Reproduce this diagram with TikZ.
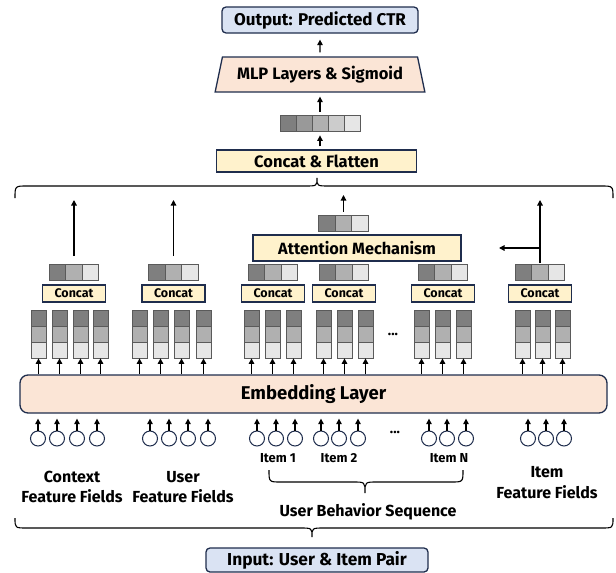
\documentclass[tikz,border=0pt]{standalone}
\usepackage{fontspec}
\setmainfont{Fira Sans}
\usetikzlibrary{shapes.geometric,arrows.meta,calc}
\definecolor{navy}{HTML}{1F2D4D}
\definecolor{bluef}{HTML}{DAE3F3}
\definecolor{peach}{HTML}{FBE5D6}
\definecolor{cyel}{HTML}{FFF2CC}
\definecolor{gA}{HTML}{7F7F7F}
\definecolor{gB}{HTML}{B0B0B0}
\definecolor{gC}{HTML}{E6E6E6}
\definecolor{g2}{HTML}{999999}
\definecolor{g4}{HTML}{CCCCCC}
\definecolor{cellb}{HTML}{5A5A5A}
\newcommand\embcol[3]{%
  \node[cell,fill=gA] (#1-a) at (#2,#3+8) {};
  \node[cell,fill=gB] (#1-b) at (#2,#3+24) {};
  \node[cell,fill=gC] (#1-c) at (#2,#3+40) {};
  \draw[arr] (#1-c.south |- emb.north) -- (#1-c.south);}
\newcommand\barthree[3]{%
  \node[hcell,fill=gA] (#1-a) at (#2-16.5,#3) {};
  \node[hcell,fill=gB] (#1-b) at (#2,#3) {};
  \node[hcell,fill=gC] (#1-c) at (#2+16.5,#3) {};}
\newcommand\fsz[1]{\fontsize{#1}{#1}\selectfont\bfseries}
\begin{document}
\begin{tikzpicture}[x=1pt,y=-1pt,
  box/.style={draw=navy, line width=1.3pt, inner sep=0pt, font=\bfseries},
  cell/.style={draw=cellb, line width=0.8pt, minimum width=15pt, minimum height=16pt, inner sep=0pt},
  hcell/.style={cell, minimum width=16.5pt},
  arr/.style={-{Triangle[length=5.5pt,width=5.5pt]}, line width=1.2pt},
  inc/.style={circle, draw=navy, line width=1pt, minimum size=15pt, inner sep=0pt},
  cbox/.style={box, fill=cyel, minimum width=63pt, minimum height=17pt, font=\fsz{12.5}},
  lbl/.style={font=\fsz{13}, inner sep=0pt},
  lblb/.style={font=\fontsize{16}{20.5}\selectfont\bfseries, inner sep=0pt, align=center},
  brace/.style={line width=1.1pt}]
\useasboundingbox (0,0) rectangle (616,573);
% top
\node[box, fill=bluef, rounded corners=4pt, minimum width=196pt, minimum height=26pt, font=\fsz{17}] (out) at (320,20) {Output: Predicted CTR};
\node[box, fill=peach, trapezium, trapezium left angle=70, trapezium right angle=70, trapezium stretches=true, minimum width=210pt, minimum height=35pt, font=\fsz{16.5}] (mlp) at (320,74.5) {MLP Layers \& Sigmoid};
\node[hcell, minimum width=16pt, fill=gA] (f-1) at (288,123) {};
\node[hcell, minimum width=16pt, fill=g2] (f-2) at (304,123) {};
\node[hcell, minimum width=16pt, fill=gB] (f-3) at (320,123) {};
\node[hcell, minimum width=16pt, fill=g4] (f-4) at (336,123) {};
\node[hcell, minimum width=16pt, fill=gC] (f-5) at (352,123) {};
\node[box, fill=cyel, minimum width=200pt, minimum height=22pt, font=\fsz{16.5}] (flat) at (316.5,161) {Concat \& Flatten};
\draw[arr, shorten <=3pt, shorten >=4pt] (f-3.south |- flat.north) -- (f-3.south);
\draw[arr, shorten <=3pt, shorten >=4pt] (f-3.north) -- (f-3.north |- mlp.south);
\draw[arr, shorten <=4pt, shorten >=6pt] (mlp.north) -- (out.south);
% top brace
\draw[brace] (15,198) .. controls (15,186) .. (27,186) -- (305,186) .. controls (317,186) .. (317,178) .. controls (317,186) .. (329,186) -- (601,186) .. controls (613,186) .. (613,198);
% embedding
\node[box, fill=peach, rounded corners=8pt, minimum width=587pt, minimum height=38pt, font=\fsz{18.5}] (emb) at (313.5,394) {Embedding Layer};
% columns
\foreach \n/\x in {k1/38.5,k2/59.5,k3/80.5,k4/100.5,u1/139.5,u2/160.5,u3/181.5,u4/203.5,a1/251.5,a2/272.5,a3/293.5,b1/323.5,b2/344.5,b3/365.5,n1/421.5,n2/442.5,n3/463.5,q1/522.5,q2/542.5,q3/562.5}{\embcol{\n}{\x}{310}}
\node[lbl, font=\fsz{14}] (dotsA) at (393,334) {...};
% concat boxes and bars
\foreach \n/\x in {ctx/74,usr/173.5,it1/273,it2/344,itn/443,itf/540}{
  \node[cbox] (\n-cc) at (\x,293.5) {Concat};
  \barthree{\n}{\x}{272.5}}
% attention
\node[box, fill=cyel, minimum width=208pt, minimum height=26pt, font=\fsz{16.3}] (att) at (357,248) {Attention Mechanism};
\barthree{ao}{343.5}{223}
\coordinate (aotop) at (343.5,195);
\draw[arr, shorten <=3pt] (ao-b.north) -- (aotop);
\coordinate (ctxtop) at (74,200);
\coordinate (usrtop) at (173.5,200);
\coordinate (itftop) at (540,200);
\coordinate (itfbr) at (540,248);
\coordinate (itfend) at (499,248);
\draw[arr, shorten <=8pt] (ctx-b.north) -- (ctxtop);
\draw[arr, shorten <=8pt] (usr-b.north) -- (usrtop);
\draw[arr, shorten <=1pt] (itf-b.north) -- (itftop);
\draw[arr] (itfbr) -- (itfend);
% inputs
\foreach \n/\x in {1/38,2/57,3/77,4/97,5/150,6/169,7/188,8/208,9/257,10/276,11/295,12/321,13/339,14/358,15/429,16/447,17/466,18/528,19/546,20/564}{
  \node[inc] (in\n) at (\x,438.5) {};
  \draw[arr] (in\n.north) -- ($(in\n.north |- emb.south)+(0,5)$);}
\node[lbl, font=\fsz{14}] (dotsB) at (395,432) {...};
% labels
\node[lbl] (l1) at (278,458) {Item 1};
\node[lbl] (l2) at (339,458) {Item 2};
\node[lbl] (l3) at (449,458) {Item N};
\node[lblb] (lctx) at (72,487) {Context\\Feature Fields};
\node[lblb] (lusr) at (183,487) {User\\Feature Fields};
\node[lblb] (litf) at (547,482.5) {Item\\Feature Fields};
\node[lblb] (lubs) at (368,512) {User Behavior Sequence};
\draw[brace] (269,470) .. controls (269,482) .. (281,482) -- (353,482) .. controls (365,482) .. (365,493) .. controls (365,482) .. (377,482) -- (451,482) .. controls (463,482) .. (463,470);
\draw[brace] (15,518) .. controls (15,528) .. (27,528) -- (300,528) .. controls (312,528) .. (312,537) .. controls (312,528) .. (324,528) -- (601,528) .. controls (613,528) .. (613,518);
\node[box, fill=bluef, rounded corners=4pt, minimum width=222pt, minimum height=24pt, font=\fsz{17.3}] (inp) at (317,560) {Input: User \& Item Pair};
\end{tikzpicture}
\end{document}
